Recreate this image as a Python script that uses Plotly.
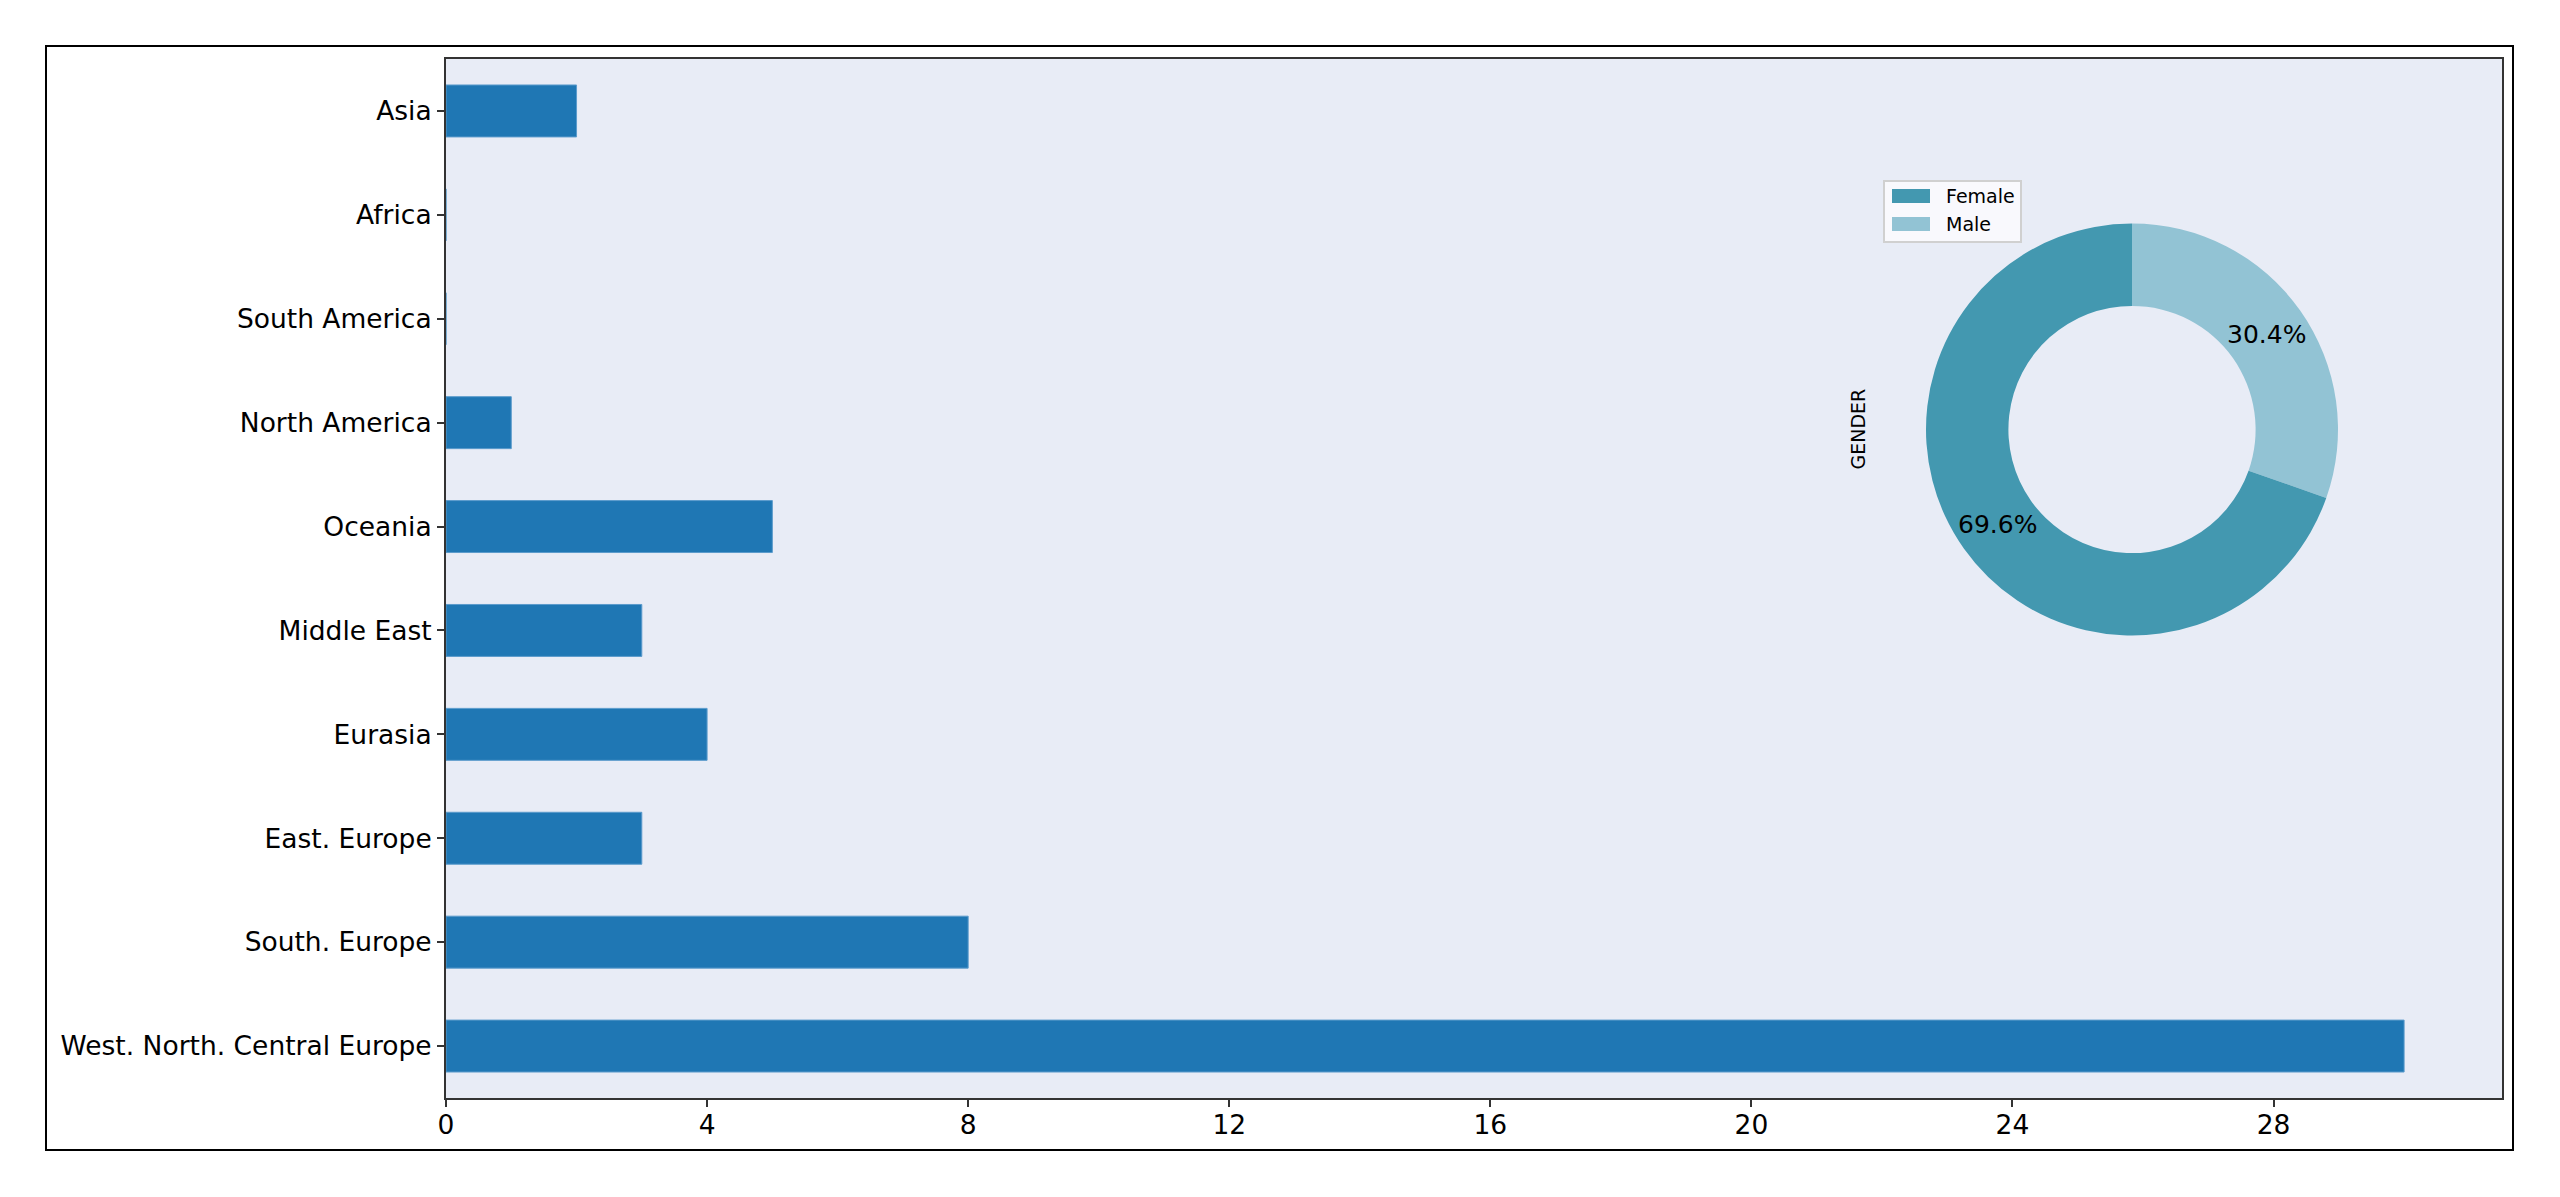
import math
import plotly.graph_objects as go

# ---- data ----
regions = ["West. North. Central Europe", "South. Europe", "East. Europe", "Eurasia",
           "Middle East", "Oceania", "North America", "South America", "Africa", "Asia"]
counts = [30, 8, 3, 4, 3, 5, 1, 0, 0, 2]
x_ticks = [0, 4, 8, 12, 16, 20, 24, 28]

gender_labels = ["Female", "Male"]
gender_share = [69.6, 30.4]
gender_colors = ["#4398B0", "#92C3D4"]

# ---- layout geometry (page pixels; the page body has an 8px margin) ----
OFF = 8
W, H = 2560 - 2 * OFF, 1197 - 2 * OFF
PL, PR, PT, PB = 446, 2502, 59, 1098          # plot area in page pixels
ML, MR, MT, MB = PL - OFF, OFF + W - PR, PT - OFF, OFF + H - PB
PW, PH = PR - PL, PB - PT

def px_x(px):
    return (px - PL) / PW

def px_y(py):
    return (PB - py) / PH

BG = "#E8ECF6"
FONT = "DejaVu Sans"

fig = go.Figure()

fig.add_trace(go.Bar(
    y=regions, x=counts, orientation="h",
    marker=dict(color="#1f77b4", line=dict(color="#5b9bcc", width=1)),
    showlegend=False, hoverinfo="x+y",
))

# donut geometry; slices drawn Male first, clockwise from 12 o'clock
cx, cy, r = 2132, 429.5, 206
HOLE = 0.6
pie_labels = gender_labels[::-1]
pie_values = gender_share[::-1]
fig.add_trace(go.Pie(
    labels=pie_labels, values=pie_values,
    hole=HOLE, sort=False, direction="clockwise", rotation=0,
    marker=dict(colors=gender_colors[::-1], line=dict(width=0)),
    textinfo="none",
    domain=dict(x=[px_x(cx - r), px_x(cx + r)], y=[px_y(cy + r), px_y(cy - r)]),
    showlegend=False,
))

# percentage labels at the middle of each ring segment (matplotlib pctdistance)
total = sum(pie_values)
annotations = []
acc = 0.0
rr = r * (1 + HOLE) / 2
for v in pie_values:
    mid = (acc + v / 2) / total * 2 * math.pi
    acc += v
    annotations.append(dict(
        text=f"{v / total * 100:.1f}%", showarrow=False,
        x=px_x(cx + rr * math.sin(mid)), y=px_y(cy - rr * math.cos(mid)),
        xref="paper", yref="paper", xanchor="center", yanchor="middle",
        font=dict(family=FONT, size=25, color="black"),
    ))

# custom legend (matplotlib-style wide patches)
leg_box = dict(x0=1884, x1=2021, y0=181, y1=242)
shapes = [dict(
    type="rect", xref="paper", yref="paper",
    x0=px_x(46), x1=px_x(2513), y0=px_y(1150), y1=px_y(46),
    line=dict(color="black", width=2), fillcolor="rgba(0,0,0,0)", layer="below",
), dict(
    type="rect", xref="paper", yref="paper",
    x0=px_x(leg_box["x0"]), x1=px_x(leg_box["x1"]),
    y0=px_y(leg_box["y1"]), y1=px_y(leg_box["y0"]),
    line=dict(color="#d0d0d0", width=2), fillcolor="rgba(252,252,254,0.85)", layer="above",
)]
annotations.append(dict(
    text="GENDER", textangle=-90, showarrow=False,
    x=px_x(1858), y=px_y(cy), xref="paper", yref="paper",
    xanchor="center", yanchor="middle",
    font=dict(family=FONT, size=19, color="black"),
))
row_y = [196, 224]
for lab, col, yy in zip(gender_labels, gender_colors, row_y):
    shapes.append(dict(
        type="rect", xref="paper", yref="paper",
        x0=px_x(1892), x1=px_x(1930), y0=px_y(yy + 7), y1=px_y(yy - 7),
        line=dict(width=0), fillcolor=col, layer="above",
    ))
    annotations.append(dict(
        text=lab, showarrow=False, x=px_x(1944), y=px_y(yy),
        xref="paper", yref="paper", xanchor="left", yanchor="middle",
        font=dict(family=FONT, size=19, color="black"),
    ))

fig.update_layout(
    width=W, height=H,
    margin=dict(l=ML, r=MR, t=MT, b=MB, pad=0),
    paper_bgcolor="white", plot_bgcolor=BG,
    font=dict(family=FONT, size=26.5, color="black"),
    bargap=0.5,
    showlegend=False,
    xaxis=dict(
        range=[0, 31.5], tickvals=x_ticks, showgrid=False, zeroline=False,
        showline=True, mirror=True, linecolor="#333333", linewidth=2,
        ticks="outside", ticklen=7, tickwidth=2, tickcolor="#333333",
        ticklabelstandoff=-5,
        tickfont=dict(family=FONT, size=26.5, color="black"),
    ),
    yaxis=dict(
        type="category", categoryorder="array", categoryarray=regions,
        range=[-0.5, len(regions) - 0.5], showgrid=False, zeroline=False,
        showline=True, mirror=True, linecolor="#333333", linewidth=2,
        ticks="outside", ticklen=7, tickwidth=2, tickcolor="#333333",
        tickfont=dict(family=FONT, size=26.5, color="black"),
    ),
    annotations=annotations,
    shapes=shapes,
)

fig.write_html("out.html")
